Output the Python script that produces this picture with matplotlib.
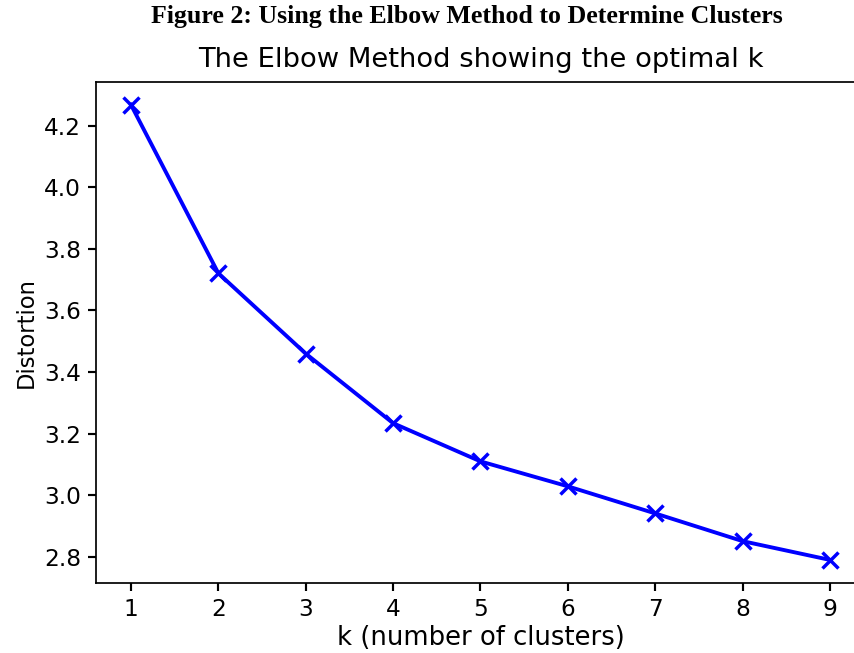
import matplotlib
matplotlib.use("Agg")
import matplotlib.pyplot as plt

k_values = [1, 2, 3, 4, 5, 6, 7, 8, 9]
distortions = [4.268, 3.721, 3.460, 3.234, 3.110, 3.029, 2.941, 2.851, 2.790]

caption = "Figure 2: Using the Elbow Method to Determine Clusters"
title = "The Elbow Method showing the optimal k"
xlabel = "k (number of clusters)"
ylabel = "Distortion"

DPI = 155
fig = plt.figure(figsize=(854 / DPI, 653 / DPI), dpi=DPI)
ax = fig.add_axes([96 / 854, 1 - 582.7 / 653, 769 / 854, (582.7 - 82) / 653])

ax.plot(k_values, distortions, "bx-", linewidth=1.8, markersize=7.5, markeredgewidth=1.6)
ax.set_xlabel(xlabel, fontsize=12, labelpad=2)
ax.set_ylabel(ylabel, fontsize=10.5, labelpad=3)
ax.set_title(title, fontsize=12.7, pad=7)
ax.tick_params(labelsize=10.8, width=1.0)
ax.spines["right"].set_visible(False)

fig.text(467 / 854, 1 - 23 / 653, caption, ha="center", va="baseline",
         fontsize=12, fontweight="bold", family="Liberation Serif")

fig.savefig("out.png", dpi=DPI)
